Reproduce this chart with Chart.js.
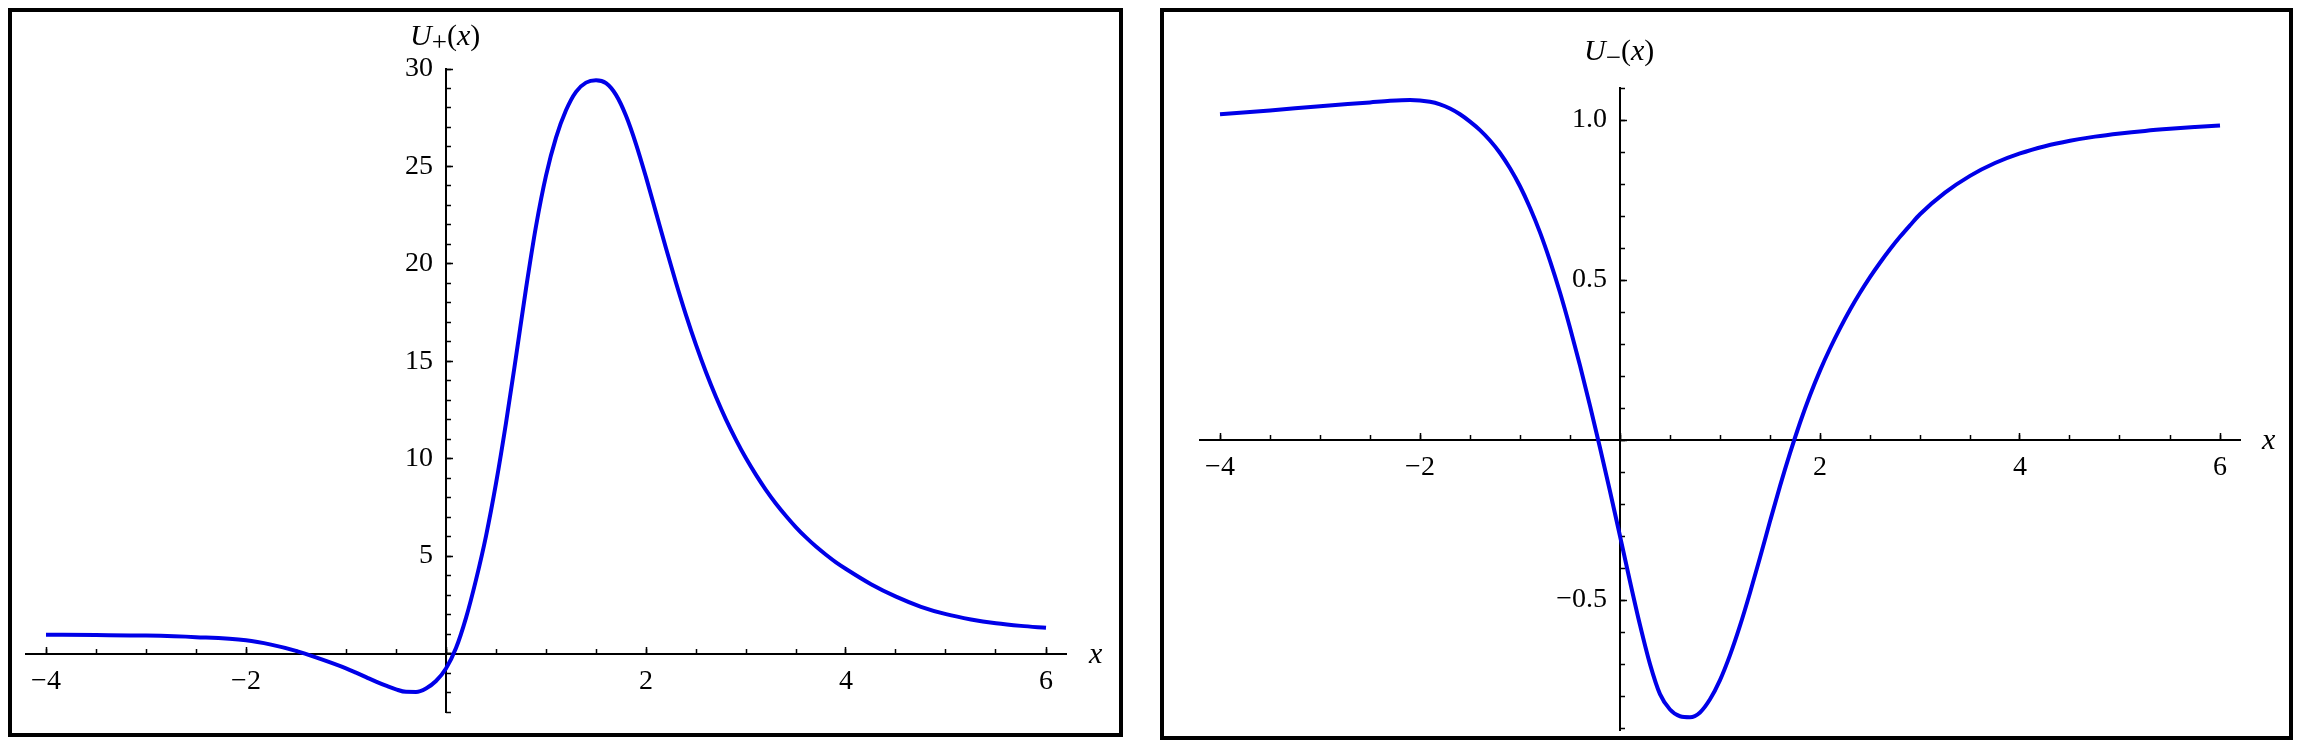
<!DOCTYPE html>
<html><head><meta charset="utf-8">
<script src="https://cdn.jsdelivr.net/npm/chart.js@4.4.1/dist/chart.umd.min.js"></script>
<style>
html,body{margin:0;padding:0;background:#fff;overflow:hidden;width:2302px;height:746px;}
.frame{position:absolute;border:4px solid #000;box-sizing:border-box;}
canvas{position:absolute;}
.lab{position:absolute;font-family:'Liberation Serif','Times New Roman',serif;font-size:30px;line-height:30px;color:#000;white-space:nowrap;}
.lab i{font-style:italic;}
.lab .sub{font-size:27px;position:relative;top:6px;}
</style></head><body>
<div class="frame" style="left:8px;top:8px;width:1115px;height:729px"></div>
<div class="frame" style="left:1160px;top:8px;width:1133px;height:732px"></div>
<canvas id="cPlus" width="1140" height="746" style="left:0;top:0"></canvas>
<canvas id="cMinus" width="1160" height="746" style="left:1142px;top:0"></canvas>
<div class="lab" style="left:410px;top:20px"><i>U</i><span class="sub">+</span>(<i>x</i>)</div>
<div class="lab" style="left:1089px;top:638px"><i>x</i></div>
<div class="lab" style="left:1584px;top:35px"><i>U</i><span class="sub">&#8722;</span>(<i>x</i>)</div>
<div class="lab" style="left:2262px;top:424px"><i>x</i></div>
<script>
// ---- data ----
const xPlus = [-4, -3.5, -3, -2.5, -2, -1.75, -1.5, -1.25,
  -1.0, -0.9, -0.8, -0.7, -0.6, -0.5, -0.4, -0.3, -0.2, -0.1,
  0.0, 0.1, 0.2, 0.3, 0.4, 0.5, 0.6, 0.7, 0.8, 0.9,
  1.0, 1.1, 1.2, 1.3, 1.4, 1.5, 1.6, 1.7, 1.8, 1.9,
  2.0, 2.1, 2.2, 2.3, 2.4, 2.5, 2.6, 2.7, 2.8, 2.9,
  3.0, 3.1, 3.2, 3.3, 3.4, 3.5, 3.6, 3.7, 3.8, 3.9,
  4.0, 4.25, 4.5, 4.75, 5.0, 5.25, 5.5, 5.75, 6.0];
const uPlus = [0.97, 0.95, 0.92, 0.84, 0.68, 0.46, 0.14, -0.29,
  -0.76, -0.98, -1.21, -1.44, -1.65, -1.84, -1.965, -1.97, -1.79, -1.41,
  -0.77, 0.28, 1.83, 3.78, 6.03, 8.73, 11.83, 15.23, 18.73, 21.93,
  24.53, 26.48, 27.88, 28.83, 29.3, 29.42, 29.27, 28.67, 27.6, 26.15,
  24.45, 22.63, 20.8, 19.03, 17.37, 15.84, 14.44, 13.17, 12.01, 10.97,
  10.02, 9.17, 8.39, 7.69, 7.06, 6.48, 5.96, 5.49, 5.07, 4.68,
  4.34, 3.56, 2.92, 2.4, 2.02, 1.75, 1.555, 1.42, 1.32];

const xMinus = [-4, -3.5, -3, -2.5, -2.3, -2.1, -1.9,
  -1.8, -1.7, -1.6, -1.5, -1.4, -1.3, -1.2, -1.1, -1.0, -0.9,
  -0.8, -0.7, -0.6, -0.5, -0.4, -0.3, -0.2, -0.1, 0.0,
  0.1, 0.2, 0.3, 0.4, 0.5, 0.6, 0.7, 0.8, 0.9, 1.0,
  1.1, 1.2, 1.3, 1.4, 1.5, 1.6, 1.7, 1.8, 1.9, 2.0,
  2.1, 2.2, 2.3, 2.4, 2.5, 2.6, 2.7, 2.8, 2.9, 3.0,
  3.25, 3.5, 3.75, 4.0, 4.25, 4.5, 4.75, 5.0, 5.25, 5.5, 5.75, 6.0];
const uMinus = [1.018, 1.030, 1.043, 1.055, 1.060, 1.0625, 1.057,
  1.049, 1.036, 1.018, 0.995, 0.9685, 0.936, 0.897, 0.849, 0.793, 0.726,
  0.649, 0.560, 0.461, 0.351, 0.233, 0.107, -0.024, -0.160, -0.300,
  -0.442, -0.578, -0.700, -0.794, -0.842, -0.863, -0.866, -0.851, -0.810, -0.750,
  -0.672, -0.580, -0.477, -0.367, -0.254, -0.144, -0.041, 0.054, 0.140, 0.217,
  0.286, 0.349, 0.407, 0.460, 0.509, 0.554, 0.596, 0.635, 0.671, 0.7055,
  0.773, 0.8255, 0.8655, 0.8955, 0.918, 0.935, 0.948, 0.958, 0.966, 0.9725, 0.978, 0.983];

const xTickLabels = [-4, -2, 2, 4, 6];
const yPlusTickLabels = [5, 10, 15, 20, 25, 30];
const yMinusTickLabels = [-0.5, 0.5, 1.0];

// ---- a linear scale whose tick labels can be nudged sideways ----
class ShiftLinear extends Chart.LinearScale {
  _computeLabelItems(chartArea) {
    const items = super._computeLabelItems(chartArea);
    const dx = this.options.labelShiftX || 0;
    if (dx) {
      items.forEach(it => {
        if (it && it.options && Array.isArray(it.options.translation)) it.options.translation[0] += dx;
      });
    }
    return items;
  }
}
ShiftLinear.id = 'shiftLinear';
ShiftLinear.defaults = Chart.LinearScale.defaults;
Chart.register(ShiftLinear);

// ---- chart helpers ----
const FONT = {family: "'Liberation Serif', 'Times New Roman', serif", size: 28};
const BLUE = '#0000e8';
const minus = s => s.replace('-', '\u2212');
function zeroPad(s) { s.paddingLeft = 0; s.paddingRight = 0; s.paddingTop = 0; s.paddingBottom = 0; }
const has = (arr, v) => arr.some(a => Math.abs(a - v) < 1e-9);

function buildScales(cfg) {
  const tickGrid = len => ({drawOnChartArea: false, drawTicks: true, tickLength: len, tickWidth: 1.5, tickColor: '#000'});
  return {
    x: {
      type: 'linear', axis: 'x', min: cfg.xMin, max: cfg.xMax, position: {y: 0}, afterFit: zeroPad,
      grid: tickGrid(-8),
      border: {display: true, color: '#000', width: 2},
      ticks: {stepSize: 2, includeBounds: false, autoSkip: false, maxRotation: 0, minRotation: 0,
        maxTicksLimit: 1000, padding: 19, color: '#000', font: FONT,
        callback: v => has(cfg.xLabels, v) ? minus(String(v)) : ''}
    },
    xm: {
      type: 'linear', axis: 'x', min: cfg.xMin, max: cfg.xMax, position: {y: 0}, afterFit: zeroPad,
      grid: tickGrid(-5),
      border: {display: false},
      ticks: {stepSize: 0.5, includeBounds: false, autoSkip: false, maxTicksLimit: 1000, display: false}
    },
    y: {
      type: 'shiftLinear', axis: 'y', min: cfg.yMin, max: cfg.yMax, position: {x: 0}, afterFit: zeroPad,
      labelShiftX: -13,
      grid: tickGrid(-8),
      border: {display: true, color: '#000', width: 2},
      ticks: {stepSize: cfg.yMajor, includeBounds: false, autoSkip: false, maxTicksLimit: 1000,
        padding: 21, color: '#000', font: FONT,
        callback: v => has(cfg.yLabels, v) ? minus(cfg.yFmt(v)) : ''}
    },
    ym: {
      type: 'linear', axis: 'y', min: cfg.yMin, max: cfg.yMax, position: {x: 0}, afterFit: zeroPad,
      grid: tickGrid(-5),
      border: {display: false},
      ticks: {stepSize: cfg.yMinor, includeBounds: false, autoSkip: false, maxTicksLimit: 1000, display: false}
    }
  };
}

function makeChart(id, xs, ys, cfg) {
  return new Chart(document.getElementById(id), {
    type: 'scatter',
    data: {datasets: [{
      data: xs.map((x, i) => ({x: x, y: ys[i]})),
      showLine: true, borderColor: BLUE, borderWidth: 4, pointRadius: 0,
      cubicInterpolationMode: 'monotone', fill: false
    }]},
    options: {
      responsive: false, animation: false, events: [],
      layout: {padding: cfg.pad},
      plugins: {legend: {display: false}, tooltip: {enabled: false}},
      scales: buildScales(cfg)
    }
  });
}

makeChart('cPlus', xPlus, uPlus, {
  xMin: -4.2, xMax: 6.2, yMin: -3, yMax: 30, yMajor: 5, yMinor: 1,
  xLabels: xTickLabels, yLabels: yPlusTickLabels, yFmt: v => String(v),
  pad: {left: 26, right: 74, top: 69, bottom: 34}
});
makeChart('cMinus', xMinus, uMinus, {
  xMin: -4.2, xMax: 6.2, yMin: -0.906, yMax: 1.1, yMajor: 0.5, yMinor: 0.1,
  xLabels: xTickLabels, yLabels: yMinusTickLabels, yFmt: v => v.toFixed(1),
  pad: {left: 58, right: 62, top: 88, bottom: 16}
});
</script>
</body></html>
